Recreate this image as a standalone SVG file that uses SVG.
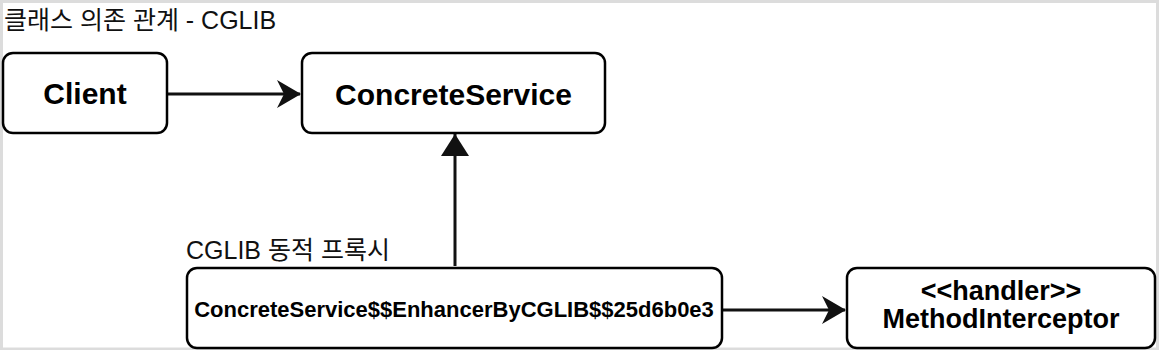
<svg xmlns="http://www.w3.org/2000/svg" width="1162" height="350" viewBox="0 0 1162 350">
  <style>
    .frame{fill:#fff;stroke:#dcdcdc;stroke-width:3}
    .box{fill:#fff;stroke:#000;stroke-width:2.5}
    .lbl{font-family:"Liberation Sans",Arial,sans-serif;font-weight:bold;fill:#000;text-anchor:middle}
    .cap{font-family:"Liberation Sans","Noto Sans CJK KR",sans-serif;font-size:25px;fill:#111}
    .edge{stroke:#111;stroke-width:3;fill:none}
  </style>
  <defs>
    <marker id="concave" viewBox="0 0 24 28" refX="23" refY="14" markerWidth="24" markerHeight="28" orient="auto" markerUnits="userSpaceOnUse">
      <path d="M0,0 L24,14 L0,28 L7,14 Z" fill="#111"/>
    </marker>
    <marker id="tri" viewBox="0 0 22 28" refX="22" refY="14" markerWidth="22" markerHeight="28" orient="auto" markerUnits="userSpaceOnUse">
      <path d="M0,0 L22,14 L0,28 Z" fill="#111"/>
    </marker>
  </defs>

  <rect class="frame" x="1.5" y="1.5" width="1156" height="347.5"/>

  <text class="cap" x="4" y="29">클래스 의존 관계 - CGLIB</text>
  <text class="cap" x="186" y="259">CGLIB 동적 프록시</text>

  <g id="connectors">
    <line class="edge" x1="168" y1="94" x2="300" y2="94" marker-end="url(#concave)"/>
    <line class="edge" x1="455" y1="266" x2="455" y2="134" marker-end="url(#tri)"/>
    <line class="edge" x1="723" y1="310" x2="845" y2="310" marker-end="url(#concave)"/>
  </g>

  <g id="client">
    <rect class="box" x="3" y="53" width="164" height="80" rx="10"/>
    <text class="lbl" x="85" y="104" font-size="30">Client</text>
  </g>

  <g id="concrete-service">
    <rect class="box" x="302" y="53" width="303" height="80" rx="10"/>
    <text class="lbl" x="453.5" y="105" font-size="30">ConcreteService</text>
  </g>

  <g id="cglib-proxy">
    <rect class="box" x="187" y="268" width="535" height="80" rx="10"/>
    <text class="lbl" x="454" y="317" font-size="22">ConcreteService$$EnhancerByCGLIB$$25d6b0e3</text>
  </g>

  <g id="method-interceptor">
    <rect class="box" x="847" y="268" width="308" height="80" rx="10"/>
    <text class="lbl" x="1001" y="300" font-size="27">&lt;&lt;handler&gt;&gt;</text>
    <text class="lbl" x="1001" y="328" font-size="27">MethodInterceptor</text>
  </g>
</svg>
